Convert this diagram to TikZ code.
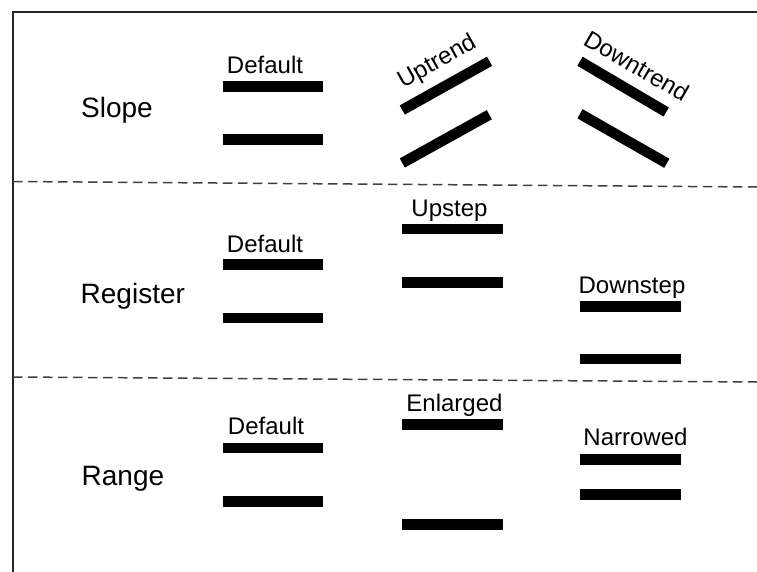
\documentclass[tikz,border=0pt]{standalone}
\usepackage{fontspec}
\setmainfont{Liberation Sans}
\begin{document}
\begin{tikzpicture}[x=1pt,y=-1pt,
  frame/.style={draw=black!85, line width=2pt},
  divider/.style={draw=black!75, line width=1.5pt, dash pattern=on 9.5pt off 5.5pt},
  bar/.style={draw=black, line width=10.5pt, line cap=butt},
  rowlabel/.style={inner sep=0pt, anchor=base west, font=\fontsize{28}{32}\selectfont},
  collabel/.style={inner sep=0pt, anchor=base, font=\fontsize{24}{28}\selectfont},
  tiltlabel/.style={inner sep=0pt, font=\fontsize{24}{28}\selectfont}]
\useasboundingbox[fill=white] (0,0) rectangle (757,572);

% outer frame (top and left edges)
\draw[frame] (12.5,572) -- (12.5,12) -- (757,12);

% section dividers
\draw[divider] (13,181.5) -- (757,187);
\draw[divider] (13,377) -- (757,382);

% row titles
\node[rowlabel] (slope) at (81,118) {Slope};
\node[rowlabel] (register) at (80.5,303) {Register};
\node[rowlabel] (range) at (81.5,485) {Range};

% ---- Slope ----
\node[collabel] (sdef) at (265,74) {Default};
\draw[bar] (222.5,86.3) -- (323,86.3);
\draw[bar] (222.5,139.5) -- (323,139.5);

\draw[bar] (402.3,110) -- (489.5,61.3);
\draw[bar] (402.3,163) -- (489.3,114.7);
\node[tiltlabel, rotate=29.2] (up) at (437.3,62.3) {Uptrend};

\draw[bar] (580,61.3) -- (666.2,112);
\draw[bar] (580,113.8) -- (666.8,163.3);
\node[tiltlabel, rotate=-30] (down) at (636.7,65.8) {Downtrend};

% ---- Register ----
\node[collabel] (rdef) at (265,252) {Default};
\draw[bar] (222.5,264.5) -- (323,264.5);
\draw[bar] (222.5,318) -- (323,318);

\node[collabel] (ups) at (449.5,216) {Upstep};
\draw[bar] (402,229) -- (503,229);
\draw[bar] (402,282.5) -- (503,282.5);

\node[collabel] (downs) at (632,293) {Downstep};
\draw[bar] (579.5,306.5) -- (681,306.5);
\draw[bar] (579.5,359) -- (681,359);

% ---- Range ----
\node[collabel] (gdef) at (266,434) {Default};
\draw[bar] (222.5,448) -- (323,448);
\draw[bar] (222.5,501.5) -- (323,501.5);

\node[collabel] (enl) at (454.5,411) {Enlarged};
\draw[bar] (402,424.7) -- (503,424.7);
\draw[bar] (402,524.5) -- (503,524.5);

\node[collabel] (nar) at (635.5,445) {Narrowed};
\draw[bar] (579.5,459.5) -- (681,459.5);
\draw[bar] (579.5,494.5) -- (681,494.5);
\end{tikzpicture}
\end{document}
